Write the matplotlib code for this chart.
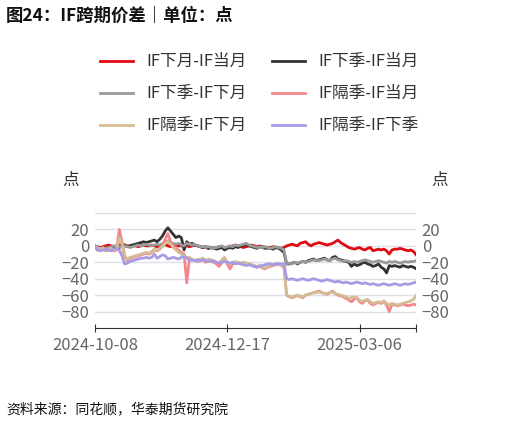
import matplotlib
matplotlib.use("Agg")
import matplotlib.pyplot as plt

plt.rcParams['font.family'] = ['Noto Sans CJK SC', 'DejaVu Sans']

xlabels = ["2024-10-08", "2024-12-17", "2025-03-06"]
xlabel_pos = [0, 49, 98]

red = [0,-1,-2,-1,0,1,0,-1,0,1, 2,1,0,0,1,0,-1,0,1,0, 0,1,0,-1,0,1,2,0,-1,0, 1,0,0,1,0,-1,0,1,0,-1,
       -2,-2,-3,-2,-3,-2,-1,-2,-3,-2, -1,0,1,0,-1,-2,-1,0,1,0, -1,0,-1,-2,-3,-2,-1,-2,-2,-3,
       -2,0,1,2,1,0,3,4,5,2, 0,2,3,4,3,2,1,2,3,5, 7,4,2,0,-2,-3,-4,-3,-2,-4,
       -5,-3,-2,-6,-5,-4,-5,-4,-6,-10, -5,-4,-4,-3,-4,-5,-6,-5,-7,-11]
black = [0,-5,-4,-3,-5,-4,-2,-1,-3,-2, 0,1,-1,0,1,2,3,4,5,4, 5,6,7,5,8,12,18,22,18,14, 10,12,10,-5,5,2,3,1,0,-1,
         -2,-1,-3,-2,-3,-4,-3,-2,-5,-3, -2,-3,-1,-2,0,1,2,0,-1,-2, -3,-1,-2,-3,-2,-3,-4,-2,-3,-5,
         -8,-22,-22,-21,-20,-22,-20,-19,-20,-18, -17,-16,-18,-17,-16,-15,-17,-18,-14,-13, -16,-17,-18,-19,-20,-25,-22,-24,-23,-21,
         -20,-22,-23,-25,-24,-22,-26,-28,-33,-24, -25,-24,-25,-26,-24,-25,-26,-25,-26,-28]
gray = [0,-4,-3,-2,-3,-2,-1,0,-2,-1, -1,0,-1,-2,-1,0,1,0,1,2, 1,0,1,2,1,3,5,6,4,3, 2,3,1,0,3,2,1,2,0,-1,
        -1,-2,-1,-2,-3,-2,-1,0,-2,-1, 0,-1,1,0,1,2,3,1,0,-1, -2,-1,-2,-1,-2,-3,-2,-1,-2,-3,
        -5,-22,-21,-22,-20,-21,-20,-19,-20,-19, -18,-17,-18,-18,-17,-16,-17,-18,-16,-15, -17,-18,-19,-18,-19,-20,-19,-20,-19,-18,
        -17,-18,-19,-20,-19,-18,-19,-20,-21,-19, -20,-19,-20,-21,-20,-19,-20,-19,-19,-18]
pink = [0,-3,-5,-4,-6,-5,-4,-6,-5,20, 5,-12,-18,-15,-14,-13,-12,-11,-10,-9, -10,-8,-5,-6,-4,0,8,15,5,0, -3,-5,-8,-10,-45,-15,-17,-18,-19,-18,
        -17,-20,-18,-19,-20,-22,-25,-20,-15,-22, -28,-22,-20,-21,-22,-20,-21,-22,-23,-25, -26,-24,-27,-28,-26,-25,-24,-23,-22,-24,
        -26,-60,-62,-63,-62,-60,-62,-63,-60,-59, -58,-57,-56,-55,-57,-58,-59,-57,-55,-58, -60,-61,-62,-64,-66,-68,-65,-63,-68,-70,
        -67,-66,-70,-72,-70,-69,-70,-68,-72,-80, -71,-72,-73,-72,-71,-72,-73,-72,-71,-72]
tan = [0,-2,-4,-3,-5,-4,-3,-5,-4,10, 2,-14,-16,-14,-13,-12,-11,-10,-9,-8, -9,-7,-4,-5,-3,-1,3,5,2,-2, -5,-8,-10,-12,-15,-14,-16,-18,-17,-16,
       -15,-18,-16,-17,-18,-20,-21,-17,-14,-20, -22,-20,-19,-20,-21,-20,-21,-22,-23,-24, -25,-24,-26,-27,-25,-24,-23,-22,-22,-23,
       -25,-60,-62,-62,-61,-60,-61,-62,-60,-59, -58,-57,-57,-56,-57,-58,-58,-57,-56,-58, -59,-60,-61,-62,-64,-63,-62,-64,-66,-68,
       -66,-65,-68,-70,-69,-68,-69,-67,-70,-72, -70,-71,-72,-71,-70,-69,-68,-67,-65,-60]
purple = [0,-5,-6,-5,-4,-5,-6,-4,-3,-5, -12,-22,-21,-19,-18,-17,-16,-15,-15,-14, -15,-14,-10,-15,-13,-11,-12,-16,-15,-14, -15,-16,-14,-13,-14,-18,-17,-18,-17,-18,
          -17,-18,-19,-18,-19,-20,-21,-20,-19,-20, -21,-20,-22,-21,-22,-23,-24,-23,-24,-25, -26,-25,-24,-23,-22,-22,-23,-22,-22,-22,
          -22,-40,-41,-40,-41,-42,-41,-40,-41,-42, -41,-40,-41,-42,-43,-42,-41,-42,-43,-44, -43,-44,-45,-44,-45,-46,-45,-44,-45,-46,
          -45,-46,-47,-46,-47,-48,-47,-46,-47,-48, -47,-46,-47,-48,-47,-46,-47,-46,-45,-44]

series = [
    ("IF下月-IF当月", red, "#e00a12"),
    ("IF下季-IF当月", black, "#333333"),
    ("IF下季-IF下月", gray, "#9a9a9a"),
    ("IF隔季-IF当月", pink, "#f2868c"),
    ("IF隔季-IF下月", tan, "#d4bc94"),
    ("IF隔季-IF下季", purple, "#a89be6"),
]

fig = plt.figure(figsize=(5.19, 4.26), dpi=100)
ax = fig.add_axes([0.183, 0.23, 0.619, 0.27])
x = list(range(len(red)))
handles = {}
for name, vals, col in series:
    (h,) = ax.plot(x, vals, color=col, lw=2, label=name)
    handles[name] = h

ax.set_ylim(-100, 40)
ax.set_xlim(0, len(red) - 1)
for v in [40, 20, 0, -20, -40, -60, -80]:
    ax.axhline(v, color="#dde0ea", lw=1, zorder=0)
ax.set_yticks([20, 0, -20, -40, -60, -80])
ax.tick_params(axis='y', length=0, labelsize=12, colors="#666666", pad=4)
ax.set_xticks(xlabel_pos + [len(red) - 1])
ax.set_xticklabels(xlabels + [""])
ax.tick_params(axis='x', length=6, labelsize=12, colors="#333333", labelcolor="#666666", direction="inout")
for s in ["top", "right", "left"]:
    ax.spines[s].set_visible(False)
ax.spines["bottom"].set_color("#333333")

ax2 = ax.twinx()
ax2.set_ylim(-100, 40)
ax2.set_yticks([20, 0, -20, -40, -60, -80])
ax2.tick_params(axis='y', length=0, labelsize=12, colors="#666666", pad=4)
for s in ["top", "right", "left", "bottom"]:
    ax2.spines[s].set_visible(False)

fig.text(0.137, 0.567, "点", fontsize=12, color="#333333", ha="center")
fig.text(0.848, 0.567, "点", fontsize=12, color="#333333", ha="center")

order = ["IF下月-IF当月", "IF下季-IF当月", "IF隔季-IF当月", "IF下季-IF下月", "IF隔季-IF下月", "IF隔季-IF下季"]
order = ["IF下月-IF当月", "IF下季-IF下月", "IF隔季-IF下月", "IF下季-IF当月", "IF隔季-IF当月", "IF隔季-IF下季"]
fig.legend([handles[n] for n in order], order, ncol=2, loc="upper center",
           bbox_to_anchor=(0.5, 0.91), frameon=False, fontsize=12,
           handlelength=2.0, columnspacing=1.5, labelspacing=0.9, labelcolor="#333333")

fig.text(0.012, 0.95, "图24：IF跨期价差｜单位：点", fontsize=12.5, fontweight="bold", color="#111111")
fig.text(0.012, 0.03, "资料来源：同花顺，华泰期货研究院", fontsize=10, style="italic", color="#111111")

fig.savefig("out.png", dpi=100)
